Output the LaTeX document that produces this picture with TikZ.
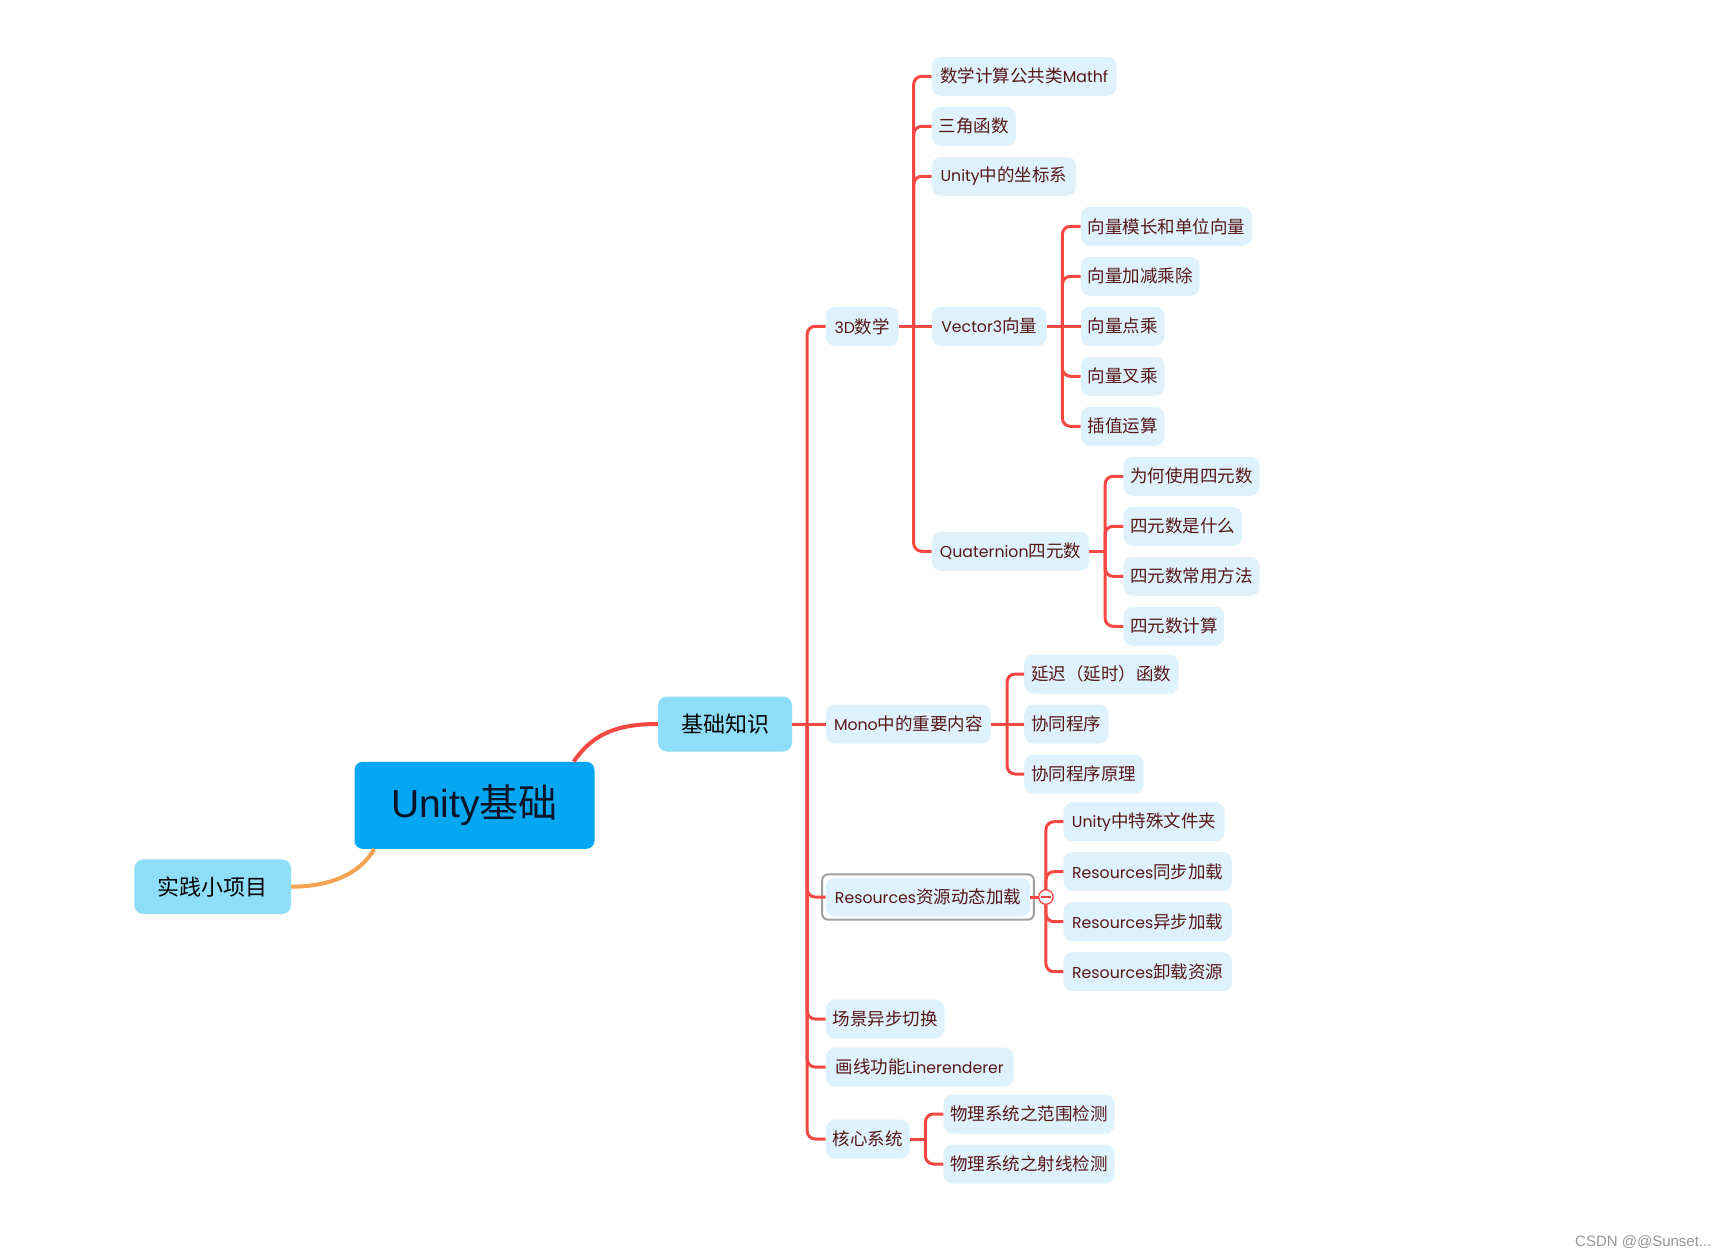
\documentclass[tikz,border=0pt]{standalone}
\usepackage{fontspec}
\setmainfont{Noto Sans CJK SC}
\newfontfamily\en[Scale=0.9]{Poppins}
\newfontfamily\ar{Liberation Sans}
\usetikzlibrary{calc,fit}
\definecolor{rootblue}{RGB}{5,167,243}
\definecolor{topicblue}{RGB}{142,222,249}
\definecolor{leafblue}{RGB}{221,242,253}
\definecolor{leaftext}{RGB}{88,22,22}
\definecolor{linered}{RGB}{245,72,66}
\definecolor{lineorange}{RGB}{244,163,80}
\definecolor{framegray}{RGB}{158,158,158}
\tikzset{
  leaf/.style={fill=leafblue, rounded corners=9, minimum height=39, inner xsep=6,
    anchor=west, text=leaftext, font=\fontsize{17.5}{20}\selectfont},
  topic/.style={fill=topicblue, rounded corners=9, text=black, font=\fontsize{22}{26}\selectfont},
  stem/.style={draw=linered, line width=3},
  branch/.style={draw=linered, line width=3, rounded corners=8},
}
\begin{document}
\begin{tikzpicture}[x=1pt,y=-1pt]
  \useasboundingbox (0,0) rectangle (1727,1257);

  %%%%% centre and first level %%%%%
  \node[fill=rootblue, rounded corners=8, minimum width=240, minimum height=87,
    text={rgb,255:red,8;green,20;blue,40}, font=\fontsize{39}{44}\selectfont] (root) at (474.5,805.3) {{\ar Unity}基础};
  \node[topic, minimum width=134, minimum height=55] (base) at (725,724) {基础知识};
  \node[topic, minimum width=156.6, minimum height=54.7] (proj) at (212.7,886.7) {实践小项目};

  \draw[linered, line width=4] ($(root.north east)+(-21,0)$) .. controls (592,735) and (615,724) .. (base.west);
  \draw[lineorange, line width=4] ($(root.south west)+(20,0)$) .. controls (360,874) and (330,886.7) .. (proj.east);

  %%%%% second level %%%%%
  \node[leaf, minimum width=72.6] (d3) at (825.7,326.3) {{\en 3D}数学};
  \node[leaf, minimum width=165] (mono) at (825.7,724) {{\en Mono}中的重要内容};
  \node[leaf, minimum width=204.3] (res) at (825.7,897) {{\en Resources}资源动态加载};
  \node[leaf, minimum width=118.6] (scene) at (825.7,1019) {场景异步切换};
  \node[leaf, minimum width=187.6] (lr) at (825.7,1067) {画线功能{\en Linerenderer}};
  \node[leaf, minimum width=83.6] (core) at (825.7,1139) {核心系统};
  \node[draw=framegray, line width=2, rounded corners=6, fit=(res), inner xsep=3.5, inner ysep=3] (resframe) {};

  \coordinate (baseX) at ($(base.east)+(15,0)$);
  \draw[stem] (base.east) -- (mono.west);
  \foreach \c in {d3,res,scene,lr,core}
    \draw[branch] (baseX) |- (\c.west);

  %%%%% 3D math %%%%%
  \node[leaf, minimum width=184.7] (mathf) at (931.7,76.3) {数学计算公共类{\en Mathf}};
  \node[leaf, minimum width=84] (trig) at (931.7,126.3) {三角函数};
  \node[leaf, minimum width=144] (coord) at (931.7,176.3) {{\en Unity}中的坐标系};
  \node[leaf, minimum width=114.7] (vec) at (931.7,326.3) {{\en Vector3}向量};
  \node[leaf, minimum width=157.3] (quat) at (931.7,551.3) {{\en Quaternion}四元数};

  \coordinate (d3X) at ($(d3.east)+(15,0)$);
  \draw[stem] (d3.east) -- (vec.west);
  \foreach \c in {mathf,trig,coord,quat}
    \draw[branch] (d3X) |- (\c.west);

  \node[leaf, minimum width=171] (vlen) at (1080.7,226.3) {向量模长和单位向量};
  \node[leaf, minimum width=118.6] (vadd) at (1080.7,276.3) {向量加减乘除};
  \node[leaf, minimum width=83.6] (vdot) at (1080.7,326.3) {向量点乘};
  \node[leaf, minimum width=83.6] (vcross) at (1080.7,376.3) {向量叉乘};
  \node[leaf, minimum width=83.6] (vlerp) at (1080.7,426.3) {插值运算};

  \coordinate (vecX) at ($(vec.east)+(15.6,0)$);
  \draw[stem] (vec.east) -- (vdot.west);
  \foreach \c in {vlen,vadd,vcross,vlerp}
    \draw[branch] (vecX) |- (\c.west);

  \node[leaf, minimum width=136] (qwhy) at (1123.3,476.3) {为何使用四元数};
  \node[leaf, minimum width=118.4] (qwhat) at (1123.3,526.3) {四元数是什么};
  \node[leaf, minimum width=136] (quse) at (1123.3,576.3) {四元数常用方法};
  \node[leaf, minimum width=100.7] (qcalc) at (1123.3,626.3) {四元数计算};

  \coordinate (quatX) at ($(quat.east)+(15.7,0)$);
  \draw[stem] (quat.east) -- (quatX);
  \foreach \c in {qwhy,qwhat,quse,qcalc}
    \draw[branch] (quatX) |- (\c.west);

  %%%%% Mono %%%%%
  \node[leaf, minimum width=154.3] (delay) at (1024,674) {延迟（延时）函数};
  \node[leaf, minimum width=84.3] (co) at (1024,724) {协同程序};
  \node[leaf, minimum width=119.3] (cowhy) at (1024,774) {协同程序原理};

  \coordinate (monoX) at ($(mono.east)+(16,0)$);
  \draw[stem] (mono.east) -- (co.west);
  \foreach \c in {delay,cowhy}
    \draw[branch] (monoX) |- (\c.west);

  %%%%% Resources %%%%%
  \node[leaf, minimum width=161] (folder) at (1063.3,821.7) {{\en Unity}中特殊文件夹};
  \node[leaf, minimum width=168.4] (rsync) at (1063.3,871.7) {{\en Resources}同步加载};
  \node[leaf, minimum width=168.4] (rasync) at (1063.3,921.7) {{\en Resources}异步加载};
  \node[leaf, minimum width=168.4] (runload) at (1063.3,971.7) {{\en Resources}卸载资源};

  \coordinate (resX) at ($(res.east)+(15.5,0)$);
  \draw[stem] (res.east) -- (resX);
  \foreach \c in {folder,rsync,rasync,runload}
    \draw[branch] (resX) |- (\c.west);

  \node[circle, draw=linered, fill=white, line width=1.3, minimum size=14.5, inner sep=0] (fold) at (resX) {};
  \draw[linered, line width=1.3] ($(fold.west)+(3,0)$) -- ($(fold.east)+(-3,0)$);

  %%%%% core %%%%%
  \node[leaf, minimum width=171] (range) at (943.3,1114) {物理系统之范围检测};
  \node[leaf, minimum width=171] (ray) at (943.3,1164) {物理系统之射线检测};

  \coordinate (coreX) at ($(core.east)+(15.7,0)$);
  \draw[stem] (core.east) -- (coreX);
  \foreach \c in {range,ray}
    \draw[branch] (coreX) |- (\c.west);

  \node[anchor=east, text={rgb,255:red,150;green,150;blue,150}, font=\ar\fontsize{15}{17}\selectfont, inner sep=0] (mark) at (1711.7,1241.7) {CSDN @@Sunset...};
\end{tikzpicture}
\end{document}
